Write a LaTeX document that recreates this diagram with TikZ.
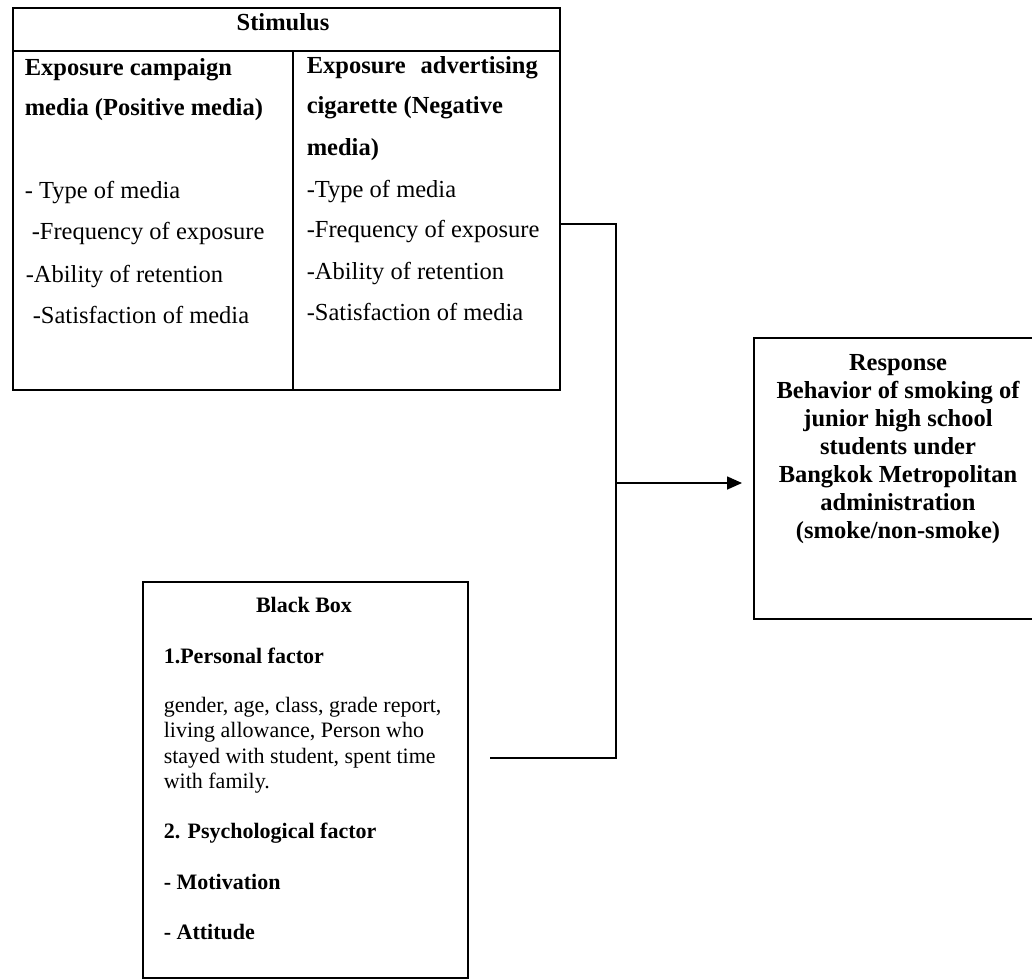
\documentclass[tikz,border=0pt]{standalone}
\usepackage{fontspec}
\setmainfont{Liberation Serif}
\usetikzlibrary{arrows.meta}
\begin{document}
\begin{tikzpicture}[x=1pt,y=-1pt,line width=1.6pt,
  frame/.style={draw,rectangle,inner sep=0pt,anchor=north west},
  big/.style={font=\fontsize{24.5}{29}\selectfont},
  bigb/.style={font=\fontsize{24.5}{29}\selectfont\bfseries},
  small/.style={font=\fontsize{22}{25}\selectfont},
  smallb/.style={font=\fontsize{22}{25}\selectfont\bfseries},
  txt/.style={inner sep=0pt,anchor=base west},
  ctr/.style={inner sep=0pt,anchor=base}]
\useasboundingbox (0,0) rectangle (1032,978);

% ---- Stimulus table ----
\node[frame,minimum width=547pt,minimum height=382pt] (stim) at (12,7) {};
\coordinate (hl) at (12,51);
\coordinate (hr) at (559,51);
\coordinate (dt) at (293,51);
\coordinate (db) at (293,389);
\draw (hl) -- (hr);
\draw (dt) -- (db);
\node[bigb,ctr] (stimtitle) at (283,30) {Stimulus};

\node[bigb,txt] (pos1) at (24,75) {Exposure campaign};
\node[bigb,txt] (pos2) at (24,115) {media (Positive media)};
\node[big,txt] (pos3) at (24,198) {- Type of media};
\node[big,txt] (pos4) at (31,239) {-Frequency of exposure};
\node[big,txt] (pos5) at (25,282) {-Ability of retention};
\node[big,txt] (pos6) at (32,323) {-Satisfaction of media};

\node[bigb,txt] (neg1) at (306,73) {\makebox[231pt][s]{Exposure advertising}};
\node[bigb,txt] (neg2) at (306,113) {cigarette (Negative};
\node[bigb,txt] (neg3) at (306,155) {media)};
\node[big,txt] (neg4) at (306,197) {-Type of media};
\node[big,txt] (neg5) at (306,237) {-Frequency of exposure};
\node[big,txt] (neg6) at (306,279) {-Ability of retention};
\node[big,txt] (neg7) at (306,320) {-Satisfaction of media};

% ---- Response box ----
\node[frame,minimum width=282pt,minimum height=281pt] (resp) at (753,337) {};
\node[bigb,ctr] (r1) at (898,370) {Response};
\node[bigb,ctr] (r2) at (898,398) {Behavior of smoking of};
\node[bigb,ctr] (r3) at (898,426) {junior high school};
\node[bigb,ctr] (r4) at (898,454) {students under};
\node[bigb,ctr] (r5) at (898,482) {Bangkok Metropolitan};
\node[bigb,ctr] (r6) at (898,510) {administration};
\node[bigb,ctr] (r7) at (898,538) {(smoke/non-smoke)};

% ---- Black box ----
\node[frame,minimum width=325pt,minimum height=396pt] (bb) at (142,581) {};
\node[smallb,ctr] (bbtitle) at (304,612) {Black Box};
\node[smallb,txt] (b1) at (163,663) {1.Personal factor};
\node[small,txt] (b2) at (163,712) {gender, age, class, grade report,};
\node[small,txt] (b3) at (163,737) {living allowance, Person who};
\node[small,txt] (b4) at (163,763) {stayed with student, spent time};
\node[small,txt] (b5) at (163,788) {with family.};
\node[smallb,txt] (b6) at (163,838) {2. Psychological factor};
\node[smallb,txt] (b7) at (163,889) {- Motivation};
\node[smallb,txt] (b8) at (163,939) {- Attitude};

% ---- Connectors ----
\coordinate (jtop) at (616,224);
\coordinate (jmid) at (616,483);
\coordinate (jbot) at (616,758);
\coordinate (bbend) at (490,758);
\draw (stim.east |- jtop) -- (jtop) -- (jbot) -- (bbend);
\draw[-{Triangle[length=15pt,width=13pt]},shorten >=11pt] (jmid) -- (resp.west |- jmid);
\end{tikzpicture}
\end{document}
